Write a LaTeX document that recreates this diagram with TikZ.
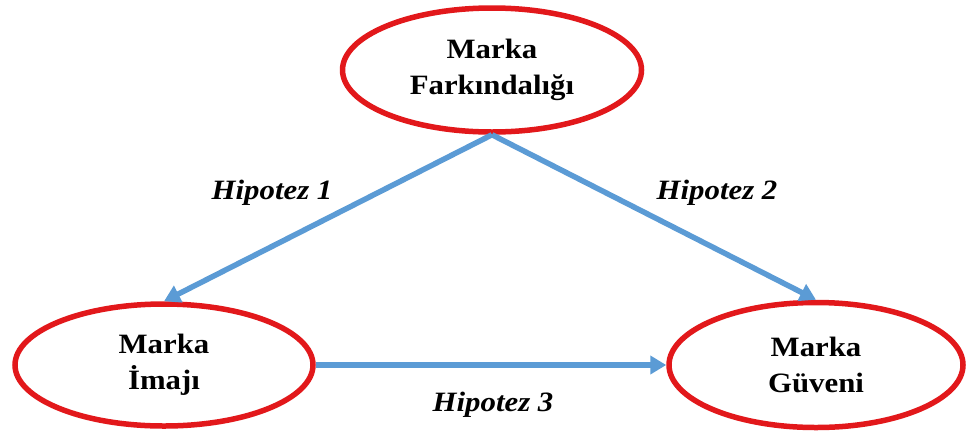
\documentclass[tikz,border=0pt]{standalone}
\usepackage{fontspec}
\setmainfont[FakeStretch=1.1]{Liberation Serif}
\usetikzlibrary{shapes.geometric,arrows.meta}
\definecolor{ellred}{RGB}{226,24,27}
\definecolor{arrblue}{RGB}{91,155,213}
\begin{document}
\begin{tikzpicture}[x=1pt,y=-1pt,
  concept/.style={ellipse,draw=ellred,line width=5.5pt,fill=white,align=center,
    font=\fontsize{28}{36}\selectfont\bfseries,inner sep=0pt},
  link/.style={draw=arrblue,line width=5.5pt,line join=round,
    -{Triangle[length=16pt,width=18pt]}},
  hyp/.style={font=\fontsize{28}{34}\selectfont\bfseries\itshape}]
\useasboundingbox (0,0) rectangle (968,437);
\node[concept,minimum width=299pt,minimum height=124pt] (aw) at (492,70) {Marka\\Farkındalığı};
\node[concept,minimum width=298pt,minimum height=122pt] (im) at (164,365) {Marka\\İmajı};
\node[concept,minimum width=294pt,minimum height=125pt] (tr) at (816,365) {Marka\\Güveni};
\draw[link] (aw.south) -- (im.north);
\draw[link] (aw.south) -- (tr.north);
\draw[link] (im.east) -- (tr.west);
\node[hyp] (h1) at (272,193) {Hipotez 1};
\node[hyp] (h2) at (717,193) {Hipotez 2};
\node[hyp] (h3) at (493,405) {Hipotez 3};
\end{tikzpicture}
\end{document}
